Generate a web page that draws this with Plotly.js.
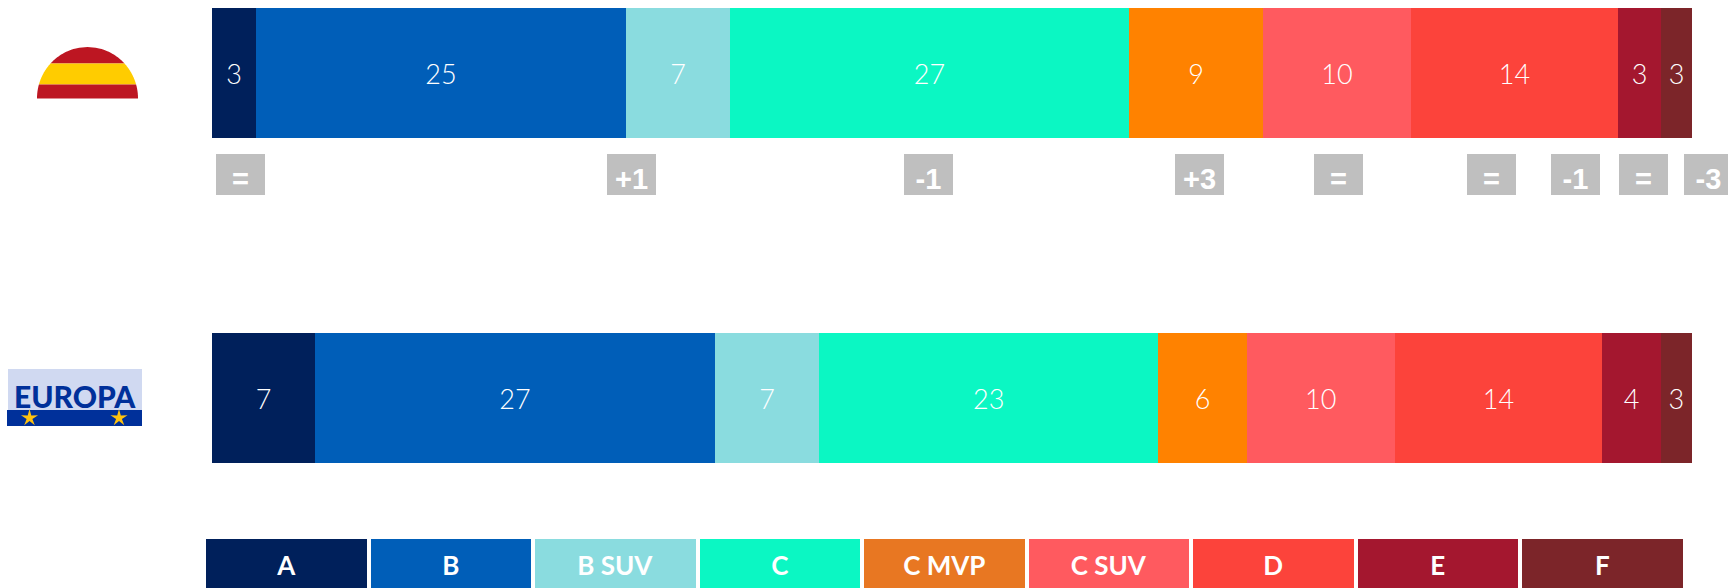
<!DOCTYPE html>
<html>
<head>
<meta charset="utf-8">
<script src="https://cdn.plot.ly/plotly-3.0.1.min.js"></script>
<style>html,body{margin:0;padding:0;background:#fff;overflow:hidden}#chart{width:1728px;height:588px}</style>
</head>
<body>
<div id="chart"></div>
<script>
const regions = ['España', 'Europa'];
const segments = ['A', 'B', 'B SUV', 'C', 'C MVP', 'C SUV', 'D', 'E', 'F'];
const spainValues = [2.97, 25, 7.03, 26.96, 9.05, 10, 13.99, 2.9, 2.1];
const europeValues = [6.96, 27.03, 7.03, 22.91, 6, 9.97, 14.04, 3.95, 2.11];
const spainLabels = ['3', '25', '7', '27', '9', '10', '14', '3', '3'];
const europeLabels = ['7', '27', '7', '23', '6', '10', '14', '4', '3'];
const changeLabels = ['=', '+1', '-1', '+3', '=', '=', '-1', '=', '-3'];
const changeAt = [1.93, 28.34, 48.41, 66.75, 76.11, 86.45, 92.13, 96.72, 101.1];

const barColors = ['#00205b', '#005eb8', '#8adcdf', '#0bf7c3', '#ff8200', '#ff5a5f', '#fc433b', '#a4172f', '#7c2529'];
const legendColors = ['#00205b', '#005eb8', '#8adcdf', '#0bf7c3', '#e87722', '#ff5a5f', '#fc433b', '#a4172f', '#7c2529'];

const W = 1728, H = 588;
const px = x => x / W;
const py = y => 1 - y / H;
const pt = (x, y) => px(x) + ',' + py(y);
const numberFont = {family: 'Lato, sans-serif', size: 27, color: '#ffffff', weight: 300};

const traces = segments.map((s, i) => ({
  type: 'bar', orientation: 'h', name: s,
  y: regions, x: [spainValues[i], europeValues[i]],
  text: [spainLabels[i], europeLabels[i]],
  textposition: 'inside', insidetextanchor: 'middle', textangle: 0,
  constraintext: 'none', textfont: numberFont,
  marker: {color: barColors[i], line: {width: 0}},
  hoverinfo: 'name+x', width: 0.4, xaxis: 'x', yaxis: 'y'
}));
traces.push({
  type: 'bar', x: segments, y: segments.map(() => 1.08), base: segments.map(() => -0.08),
  text: segments, textposition: 'inside', insidetextanchor: 'middle', textangle: 0,
  constraintext: 'none',
  textfont: {family: 'Lato, sans-serif', size: 26, color: '#ffffff', weight: 700},
  marker: {color: legendColors, line: {width: 0}},
  hoverinfo: 'x', xaxis: 'x2', yaxis: 'y2'
});

function star(cx, cy, r) {
  let d = '';
  for (let k = 0; k < 10; k++) {
    const a = -Math.PI / 2 + k * Math.PI / 5, q = k % 2 ? r * 0.34 : r;
    d += (k ? 'L' : 'M') + pt(cx + q * Math.cos(a), cy + q * Math.sin(a));
  }
  return d + 'Z';
}
// one horizontal band of the half-round Spanish flag badge
function domeBand(y0, y1) {
  const half = y => 50.5 * Math.sqrt(Math.max(0, 1 - Math.pow((98.5 - y) / 51.5, 2)));
  const left = [], right = [];
  for (let k = 0; k <= 24; k++) {
    const y = y0 + (y1 - y0) * k / 24;
    left.push(pt(87.5 - half(y), y));
    right.unshift(pt(87.5 + half(y), y));
  }
  return 'M' + left.concat(right).join('L') + 'Z';
}
const paperShape = (path, fill) => ({
  type: 'path', xref: 'paper', yref: 'paper', path, fillcolor: fill, line: {width: 0}, layer: 'above'
});
const shapes = [
  paperShape(domeBand(47, 63.5), '#bd1622'),
  paperShape(domeBand(63.5, 84.5), '#ffcc00'),
  paperShape(domeBand(84.5, 98.5), '#bd1622'),
  paperShape('M' + pt(8, 369) + 'L' + pt(142, 369) + 'L' + pt(142, 410) + 'L' + pt(8, 410) + 'Z', '#d0d9f1'),
  paperShape('M' + pt(7, 410) + 'L' + pt(142, 410) + 'L' + pt(142, 426) + 'L' + pt(7, 426) + 'Z', '#00309a'),
  paperShape(star(29.5, 418, 9), '#ffc20e'),
  paperShape(star(119, 418, 9), '#ffc20e')
];

const annotations = changeLabels.map((t, i) => ({
  xref: 'x', x: changeAt[i], yref: 'paper', y: py(174), text: t, showarrow: false,
  width: 49, height: 41, bgcolor: '#bfbfbf', borderpad: 0, borderwidth: 0, align: 'center', valign: 'bottom',
  xanchor: 'center', yanchor: 'middle',
  font: {family: '"Liberation Sans", Arial, sans-serif', size: 29, color: '#ffffff', weight: 700}
}));
annotations.push({
  xref: 'paper', yref: 'paper', x: px(74.5), y: py(395.5), text: 'EUROPA', showarrow: false,
  xanchor: 'center', yanchor: 'middle', borderwidth: 0, borderpad: 0,
  font: {family: 'Lato, sans-serif', size: 30, color: '#00309a', weight: 900}
});

const hidden = {showgrid: false, zeroline: false, showline: false, showticklabels: false, ticks: '', fixedrange: true};
const layout = {
  width: W, height: H, margin: {l: 0, r: 0, t: 0, b: 0},
  paper_bgcolor: '#ffffff', plot_bgcolor: 'rgba(0,0,0,0)',
  showlegend: false, barmode: 'stack', bargap: 0.0243,
  xaxis: Object.assign({}, hidden, {domain: [0, 1], range: [-212 / 14.8, (W - 212) / 14.8]}),
  yaxis: Object.assign({}, hidden, {domain: [0, 1], type: 'category', range: [(H - 73) / 325, -73 / 325]}),
  xaxis2: Object.assign({}, hidden, {domain: [px(204), px(1684.5)], anchor: 'y2', type: 'category'}),
  yaxis2: Object.assign({}, hidden, {domain: [0, 49.5 / H], anchor: 'x2', range: [0, 1]}),
  shapes, annotations
};
Plotly.newPlot('chart', traces, layout, {displayModeBar: false, staticPlot: true});
</script>
</body>
</html>
